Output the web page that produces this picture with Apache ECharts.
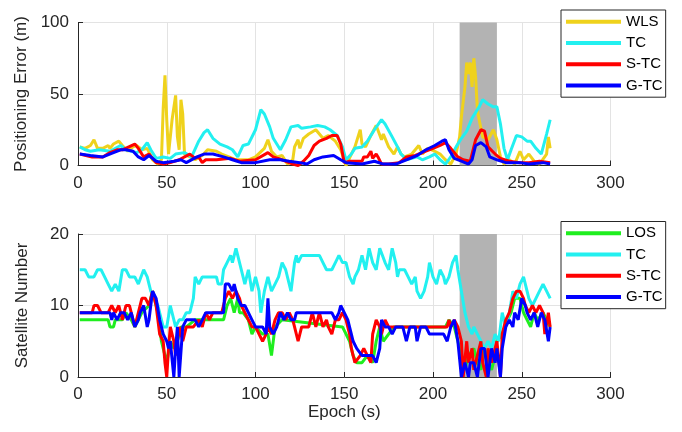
<!DOCTYPE html>
<html><head><meta charset="utf-8">
<script src="https://cdn.jsdelivr.net/npm/echarts@6/dist/echarts.min.js"></script>
<style>html,body{margin:0;padding:0;background:#fff}#c{width:682px;height:432px}</style>
</head><body><div id="c"></div>
<script>
// ---------- Top panel: positioning error (m) ----------
const wlsEpoch = [1,4,7,9,11,14,17,18,20,23,25,28,31,33,36,39,42,45,47,48,49,50,51,53,55,56,57,58,59,60,63,66,70,73,78,81,85,89,92,96,100,105,107,109,112,115,118,121,122,124,125,127,130,134,138,141,145,148,151,154,156,159,160,162,165,168,171,172,175,178,180,182,184,188,192,194,197,201,204,207,210,213,215,216,218,219,220,221,222,223,224,225,226,228,231,234,236,238,240,243,246,249,251,254,257,260,264,265,266];
const wlsErr   = [13,12,14,18,12,12,14,12,15,17,14,10,13,14,11,12,4,1,4,40,63,32,8,32,49,20,11,46,36,8,6,4,7,11,10,8,6,4,4,4,6,12,18,10,6,7,1,4,13,18,12,19,22,25,19,21,17,11,0,8,13,25,15,13,21,28,18,22,13,8,13,8,6,8,14,8,12,10,8,4,1,8,20,34,55,72,64,72,55,75,62,39,32,20,18,25,18,6,1,4,1,10,4,8,3,1,8,20,12];

const tcEpoch = [1,4,7,12,18,24,27,33,36,39,41,44,48,52,55,60,64,68,71,73,76,80,84,87,90,93,96,100,103,105,108,110,114,117,120,124,126,131,135,139,142,146,149,151,154,156,160,163,167,171,173,177,180,182,185,191,194,198,201,204,207,210,213,216,219,222,226,228,231,234,236,238,240,242,244,247,250,253,255,258,261,264,266];
const tcErr   = [13,11,10,11,10,14,11,9,11,16,11,5,6,5,8,9,6,17,23,25,19,15,13,11,6,14,15,25,39,36,27,19,11,18,27,28,26,27,28,27,25,21,13,4,8,12,13,17,25,32,29,20,13,8,4,6,4,6,8,4,1,6,13,19,24,33,41,46,43,41,41,29,12,4,11,21,20,17,17,12,8,22,32];

const stcEpoch = [1,8,14,18,22,25,32,34,37,40,44,48,52,57,63,66,68,70,72,78,86,91,100,107,110,115,121,124,127,130,133,136,140,143,146,148,150,153,160,161,163,165,166,168,169,171,175,181,185,190,196,200,204,207,210,214,217,221,224,227,229,231,235,238,243,249,254,260,266];
const stcErr   = [8,6,6,9,11,11,15,12,6,8,2,1,2,4,8,5,6,2,4,4,5,3,4,9,6,4,1,0,3,7,14,17,19,21,21,15,2,3,3,6,6,10,5,8,6,1,1,2,6,7,10,12,14,16,12,6,4,3,18,25,24,13,8,5,3,2,2,3,2];

const gtcEpoch = [1,7,14,20,24,27,31,34,37,40,44,48,54,58,61,67,71,76,82,87,92,100,108,114,119,125,129,133,138,144,148,151,160,167,172,179,185,191,196,201,205,207,209,212,216,220,222,224,227,230,232,236,241,249,254,262,266];
const gtcErr   = [8,7,6,9,11,11,10,6,4,7,3,2,3,4,2,6,8,8,6,4,2,2,4,4,3,2,1,4,6,7,4,2,1,3,1,1,4,7,11,14,17,18,11,5,3,1,4,14,16,13,6,4,2,2,1,2,1];

// ---------- Bottom panel: satellite number ----------
const losEpoch = [1,17,18,20,21,25,27,30,32,36,40,42,45,47,49,50,52,54,56,58,61,66,82,84,86,88,90,91,93,96,98,100,104,107,109,111,115,149,153,155,157,160,163,166,168,170,172,175,178,207,209,212,214,216,218,220,223,225,227,229,231,233,235,236,239,242,244,246,249,251,253,255,257,259,262,264,266];
const losNum   = [8,8,7,7,8,8,9,8,7,9,10,12,9,5,3,2,5,4,5,7,7,8,8,10,11,9,11,9,9,8,6,7,6,6,3,7,8,7,5,3,2,2,3,2,5,7,5,6,7,7,8,7,5,3,1,3,4,2,1,4,2,1,3,5,6,8,9,11,11,9,8,7,9,8,9,8,7];

const tcsEpoch = [1,4,6,9,11,13,15,17,18,19,21,23,25,27,29,32,34,35,37,39,40,41,43,45,47,48,50,52,54,55,57,59,61,63,65,66,68,70,76,78,79,81,82,84,86,87,89,91,93,94,96,98,100,102,103,105,107,109,111,113,115,117,119,120,122,123,124,126,136,138,140,143,145,147,149,151,153,155,156,158,160,162,164,166,168,170,171,173,175,177,179,180,181,184,186,188,190,191,193,195,197,198,200,202,204,206,207,209,211,213,214,216,218,220,222,223,225,227,229,231,233,235,237,238,239,241,243,245,247,249,251,253,254,256,258,260,262,264,266];
const tcsNum   = [15,15,14,14,15,15,14,13,13,12,13,12,15,15,14,14,13,13,15,14,13,12,11,10,8,7,7,10,8,7,8,8,9,9,11,14,13,14,14,14,13,13,15,16,17,16,18,16,14,13,15,12,14,12,9,12,14,12,13,14,16,15,13,12,16,17,16,17,17,16,15,15,16,17,16,16,14,13,14,15,17,15,18,16,15,18,18,16,15,18,16,14,15,15,14,13,14,12,11,12,14,16,14,13,15,14,13,14,16,17,15,12,9,7,6,7,6,5,4,5,4,6,5,7,9,7,9,12,11,13,14,12,11,10,11,12,13,12,11];

const stcsEpoch = [1,8,9,11,13,17,19,21,23,25,27,29,31,32,34,36,38,40,42,44,46,48,49,50,51,52,54,55,57,59,61,65,68,70,72,74,76,81,83,85,87,89,91,92,94,96,98,100,102,104,106,107,109,111,113,115,117,119,121,122,124,126,130,132,134,136,138,140,141,143,145,147,149,151,153,154,156,157,159,161,163,165,166,168,170,171,173,175,208,209,210,212,214,216,217,219,220,222,223,225,227,228,230,231,233,235,236,238,239,241,243,245,247,249,251,252,254,256,258,260,262,263,265,266];
const stcsNum   = [9,9,10,10,9,9,10,9,10,8,10,10,8,7,9,11,11,10,12,10,6,5,2,0,4,7,5,3,7,5,7,7,8,7,9,8,9,9,11,12,11,12,11,10,9,8,7,7,6,5,6,7,6,8,9,9,8,9,8,7,5,7,7,9,7,9,7,8,7,6,8,8,9,8,6,4,2,2,3,4,3,2,6,8,7,6,8,7,7,8,7,8,7,5,0,5,2,4,1,3,5,2,0,4,2,4,5,0,6,8,9,11,12,12,11,10,9,10,9,10,9,6,9,7];

const gtcsEpoch = [1,18,19,20,22,24,26,28,30,32,34,35,37,39,40,42,44,46,48,50,51,52,54,55,56,57,59,61,66,68,70,72,82,83,85,87,88,90,92,94,96,98,100,104,106,107,108,110,112,114,116,118,120,122,123,143,145,147,148,150,152,154,155,157,160,166,168,170,171,173,175,177,179,181,183,185,187,190,191,193,196,198,206,208,210,212,214,216,218,220,221,223,225,227,229,231,233,235,236,238,239,241,243,245,246,248,250,252,253,255,257,259,261,263,265,266];
const gtcsNum   = [9,9,8,9,8,9,9,8,9,7,8,9,10,7,8,12,11,8,6,5,4,5,0,4,7,0,7,8,8,7,8,9,9,13,13,12,13,11,10,10,9,8,7,7,6,11,7,6,7,9,8,9,8,8,9,9,8,9,10,9,8,6,5,4,3,3,2,4,8,7,7,6,7,7,7,5,7,7,5,7,7,6,6,5,7,8,5,0,2,0,2,2,0,4,4,0,4,2,4,0,4,7,8,7,9,8,11,10,9,8,9,7,9,8,5,7];

// ---------- Axes, ticks, shaded span ----------
const xTicks = [0, 300, 50];          // min, max, interval
const errTicks = [0, 100, 50];
const satTicks = [0, 20, 10];
const shadeSpan = [215, 236];
const topNames = ['WLS', 'TC', 'S-TC', 'G-TC'];
const botNames = ['LOS', 'TC', 'S-TC', 'G-TC'];

const COLORS = { WLS: '#EFD21C', LOS: '#1FEE1F', TC: '#22F0F0', 'S-TC': '#FF0000', 'G-TC': '#0000FF' };
const TXT = '#262626';
const FONT = "'Liberation Sans', Arial, sans-serif";

function pairs(ex, ys) { return ex.map((e, i) => [e, ys[i]]); }

function xAxisCfg(idx, withName) {
  return {
    type: 'value', gridIndex: idx, min: xTicks[0], max: xTicks[1], interval: xTicks[2],
    axisLine: { show: true, onZero: false, lineStyle: { color: TXT, width: 1 } },
    axisTick: { show: true, inside: true, length: 5, lineStyle: { color: TXT } },
    axisLabel: { color: TXT, fontSize: 17, fontFamily: FONT, margin: 9 },
    splitLine: { show: true, lineStyle: { color: '#e3e3e3', width: 1 } },
    name: withName ? 'Epoch (s)' : '', nameLocation: 'middle', nameGap: 24,
    nameTextStyle: { color: TXT, fontSize: 17, fontFamily: FONT }
  };
}
function yAxisCfg(idx, t, name) {
  return {
    type: 'value', gridIndex: idx, min: t[0], max: t[1], interval: t[2],
    axisLine: { show: true, onZero: false, lineStyle: { color: TXT, width: 1 } },
    axisTick: { show: true, inside: true, length: 5, lineStyle: { color: TXT } },
    axisLabel: { color: TXT, fontSize: 17, fontFamily: FONT, margin: 9 },
    splitLine: { show: true, lineStyle: { color: '#e3e3e3', width: 1 } },
    name: name, nameLocation: 'middle', nameGap: 47, nameRotate: 90,
    nameTextStyle: { color: TXT, fontSize: 17, fontFamily: FONT }
  };
}
function lineSeries(name, idx, data, z) {
  return {
    type: 'line', name: name, xAxisIndex: idx, yAxisIndex: idx, data: data,
    showSymbol: false, symbol: 'none', z: z,
    lineStyle: { color: COLORS[name], width: 3 }, itemStyle: { color: COLORS[name] },
    emphasis: { disabled: true }
  };
}
function shadeSeries(idx) {
  return {
    type: 'line', name: 'shade' + idx, xAxisIndex: idx, yAxisIndex: idx,
    data: [[shadeSpan[0], 0], [shadeSpan[1], 0]], showSymbol: false, symbol: 'none', z: 1,
    lineStyle: { opacity: 0 }, silent: true,
    markArea: { silent: true, itemStyle: { color: '#b3b3b3', opacity: 1 },
      data: [[{ xAxis: shadeSpan[0] }, { xAxis: shadeSpan[1] }]] }
  };
}
function legendCfg(names, top) {
  return {
    data: names, orient: 'vertical', left: 561, top: top,
    icon: 'rect', itemWidth: 55, itemHeight: 4, itemGap: 0,
    padding: [1, 3, 1, 5], backgroundColor: '#fff',
    borderColor: TXT, borderWidth: 1, borderRadius: 0,
    textStyle: { color: '#000', fontSize: 15, lineHeight: 21.3, fontFamily: FONT },
    selectedMode: false
  };
}

const chart = echarts.init(document.getElementById('c'), null, { renderer: 'canvas' });
chart.setOption({
  animation: false,
  backgroundColor: '#fff',
  grid: [
    { left: 78, top: 22.5, width: 532.5, height: 143 },
    { left: 78, top: 234, width: 532.5, height: 143 }
  ],
  xAxis: [xAxisCfg(0, false), xAxisCfg(1, true)],
  yAxis: [yAxisCfg(0, errTicks, 'Positioning Error (m)'), yAxisCfg(1, satTicks, 'Satellite Number')],
  legend: [legendCfg(topNames, 10), legendCfg(botNames, 221.5)],
  series: [
    shadeSeries(0),
    lineSeries('WLS', 0, pairs(wlsEpoch, wlsErr), 2),
    lineSeries('TC', 0, pairs(tcEpoch, tcErr), 3),
    lineSeries('S-TC', 0, pairs(stcEpoch, stcErr), 4),
    lineSeries('G-TC', 0, pairs(gtcEpoch, gtcErr), 5),
    shadeSeries(1),
    lineSeries('LOS', 1, pairs(losEpoch, losNum), 2),
    lineSeries('TC', 1, pairs(tcsEpoch, tcsNum), 3),
    lineSeries('S-TC', 1, pairs(stcsEpoch, stcsNum), 4),
    lineSeries('G-TC', 1, pairs(gtcsEpoch, gtcsNum), 5)
  ]
});
</script></body></html>
